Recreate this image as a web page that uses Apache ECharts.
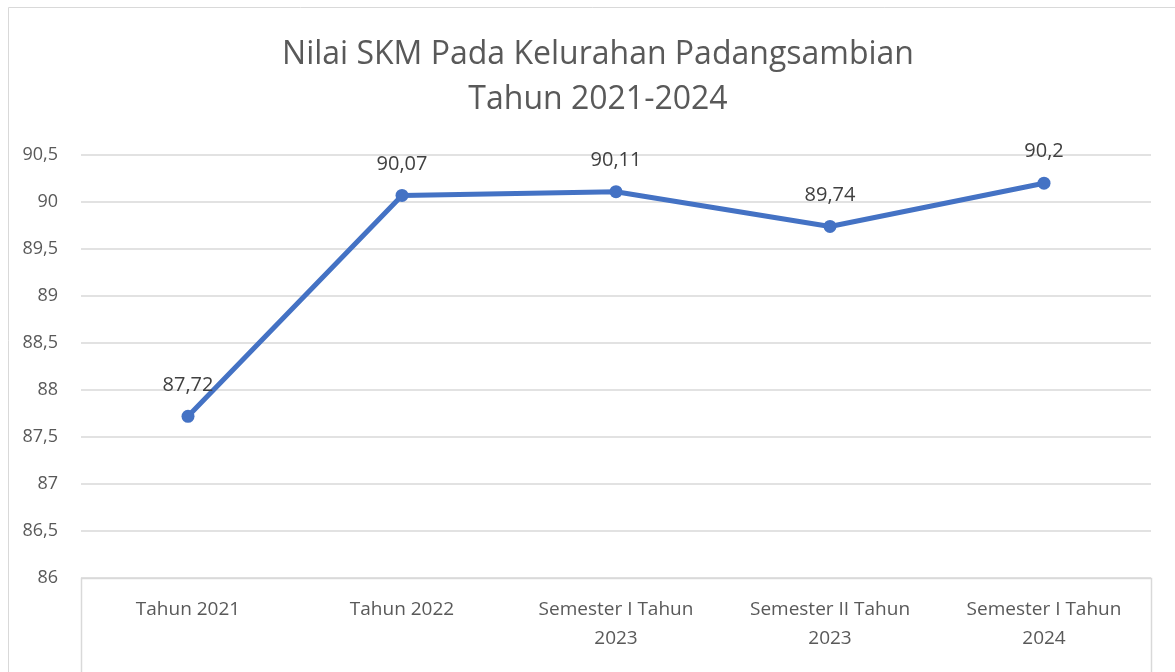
<!DOCTYPE html>
<html>
<head>
<meta charset="utf-8">
<script src="https://cdn.jsdelivr.net/npm/echarts@6/dist/echarts.min.js"></script>
<style>
    html, body { margin: 0; padding: 0; background: #fff; }
    #chart { width: 1175px; height: 672px; }
</style>
</head>
<body>
<div id="chart"></div>
<script>
// data
var categories = ['Tahun 2021', 'Tahun 2022', 'Semester I Tahun\n2023', 'Semester II Tahun\n2023', 'Semester I Tahun\n2024'];
var skmValues = [87.72, 90.07, 90.11, 89.74, 90.2];
var yTicks = [86, 86.5, 87, 87.5, 88, 88.5, 89, 89.5, 90, 90.5];

// koma sebagai pemisah desimal
function fmt(v) {
    return String(v).replace('.', ',');
}

var font = '"Open Sans", "Noto Sans", sans-serif';
var chart = echarts.init(document.getElementById('chart'));

chart.setOption({
    animation: false,
    title: {
        text: 'Nilai SKM Pada Kelurahan Padangsambian\nTahun 2021-2024',
        left: 593,
        top: 27,
        textAlign: 'center',
        textStyle: {
            fontFamily: font,
            fontSize: 32,
            fontWeight: 'normal',
            color: '#595959',
            lineHeight: 45
        }
    },
    grid: {
        left: 81,
        right: 24,
        top: 155,
        bottom: 94
    },
    graphic: [
        {
            type: 'rect',
            shape: { x: 8.5, y: 7.5, width: 1200, height: 700 },
            style: { fill: 'none', stroke: '#d9d9d9', lineWidth: 1 },
            silent: true
        },
        {
            type: 'rect',
            shape: { x: 81.5, y: 578.5, width: 1070, height: 200 },
            style: { fill: 'none', stroke: '#d9d9d9', lineWidth: 1.5 },
            silent: true
        }
    ],
    xAxis: {
        type: 'category',
        data: categories,
        boundaryGap: true,
        axisLine: { show: false },
        axisTick: { show: false },
        axisLabel: {
            interval: 0,
            hideOverlap: false,
            margin: 17,
            fontFamily: font,
            fontSize: 19,
            lineHeight: 29,
            color: '#595959'
        }
    },
    yAxis: {
        type: 'value',
        min: yTicks[0],
        max: yTicks[yTicks.length - 1],
        interval: 0.5,
        axisLine: { show: false },
        axisTick: { show: false },
        splitLine: { lineStyle: { color: '#d9d9d9', width: 1.5 } },
        axisLabel: {
            margin: 23,
            fontFamily: font,
            fontSize: 18,
            color: '#595959',
            formatter: fmt
        }
    },
    series: [
        {
            name: 'Nilai SKM',
            type: 'line',
            data: skmValues,
            symbol: 'circle',
            symbolSize: 13,
            lineStyle: { color: '#4472c4', width: 5 },
            itemStyle: { color: '#4472c4' },
            label: {
                show: true,
                position: 'top',
                distance: 15,
                fontFamily: font,
                fontSize: 20,
                color: '#404040',
                formatter: function (p) { return fmt(p.value); }
            }
        }
    ]
});

window.onresize = function () {
    chart.resize();
};
</script>
</body>
</html>
